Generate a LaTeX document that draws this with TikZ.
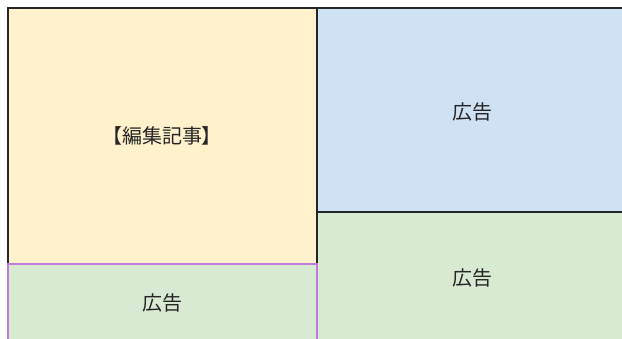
\documentclass[tikz,border=0pt]{standalone}
\usepackage{fontspec}
\setmainfont{Noto Sans CJK JP}
\definecolor{kijiyellow}{HTML}{FFF2CC}
\definecolor{adblue}{HTML}{CFE2F3}
\definecolor{adgreen}{HTML}{D9EAD3}
\definecolor{adpurple}{HTML}{C27BDB}
\tikzset{
    label text/.style={font=\fontsize{20}{24}\selectfont, text=black!85}
}
\begin{document}
\begin{tikzpicture}[x=1pt, y=-1pt]
            \useasboundingbox (0, 0) rectangle (622, 338);
            \clip (0, 0) rectangle (622, 338);
            \fill[white] (0, 0) rectangle (622, 338);

            \coordinate (TL) at (8, 8);
            \coordinate (TM) at (317, 8);
            \coordinate (ML) at (8, 264);
            \coordinate (MM) at (317, 264);
            \coordinate (RM) at (317, 212);
            \coordinate (BL) at (8, 360);
            \coordinate (BM) at (317, 360);
            \coordinate (TR) at (640, 8);
            \coordinate (RR) at (640, 212);
            \coordinate (BR) at (640, 360);

            \fill[kijiyellow] (TL) rectangle (MM);
            \fill[adgreen] (ML) rectangle (BM);
            \fill[adblue] (TM) rectangle (RR);
            \fill[adgreen] (RM) rectangle (BR);

            \draw[line width=1.2pt, black!85] (ML) -- (TL) -- (TR);
            \draw[line width=1.2pt, black!85] (TM) -- (BM);
            \draw[line width=1.2pt, black!85] (RM) -- (RR);
            \draw[line width=1.2pt, adpurple] (BL) -- (ML) -- (MM) -- (BM);

            \node[label text] (kiji) at (162, 136) {【編集記事】};
            \node[label text] (adtop) at (472, 112) {広告};
            \node[label text] (adright) at (472, 278) {広告};
            \node[label text] (adleft) at (162, 303) {広告};
        \end{tikzpicture}
\end{document}
